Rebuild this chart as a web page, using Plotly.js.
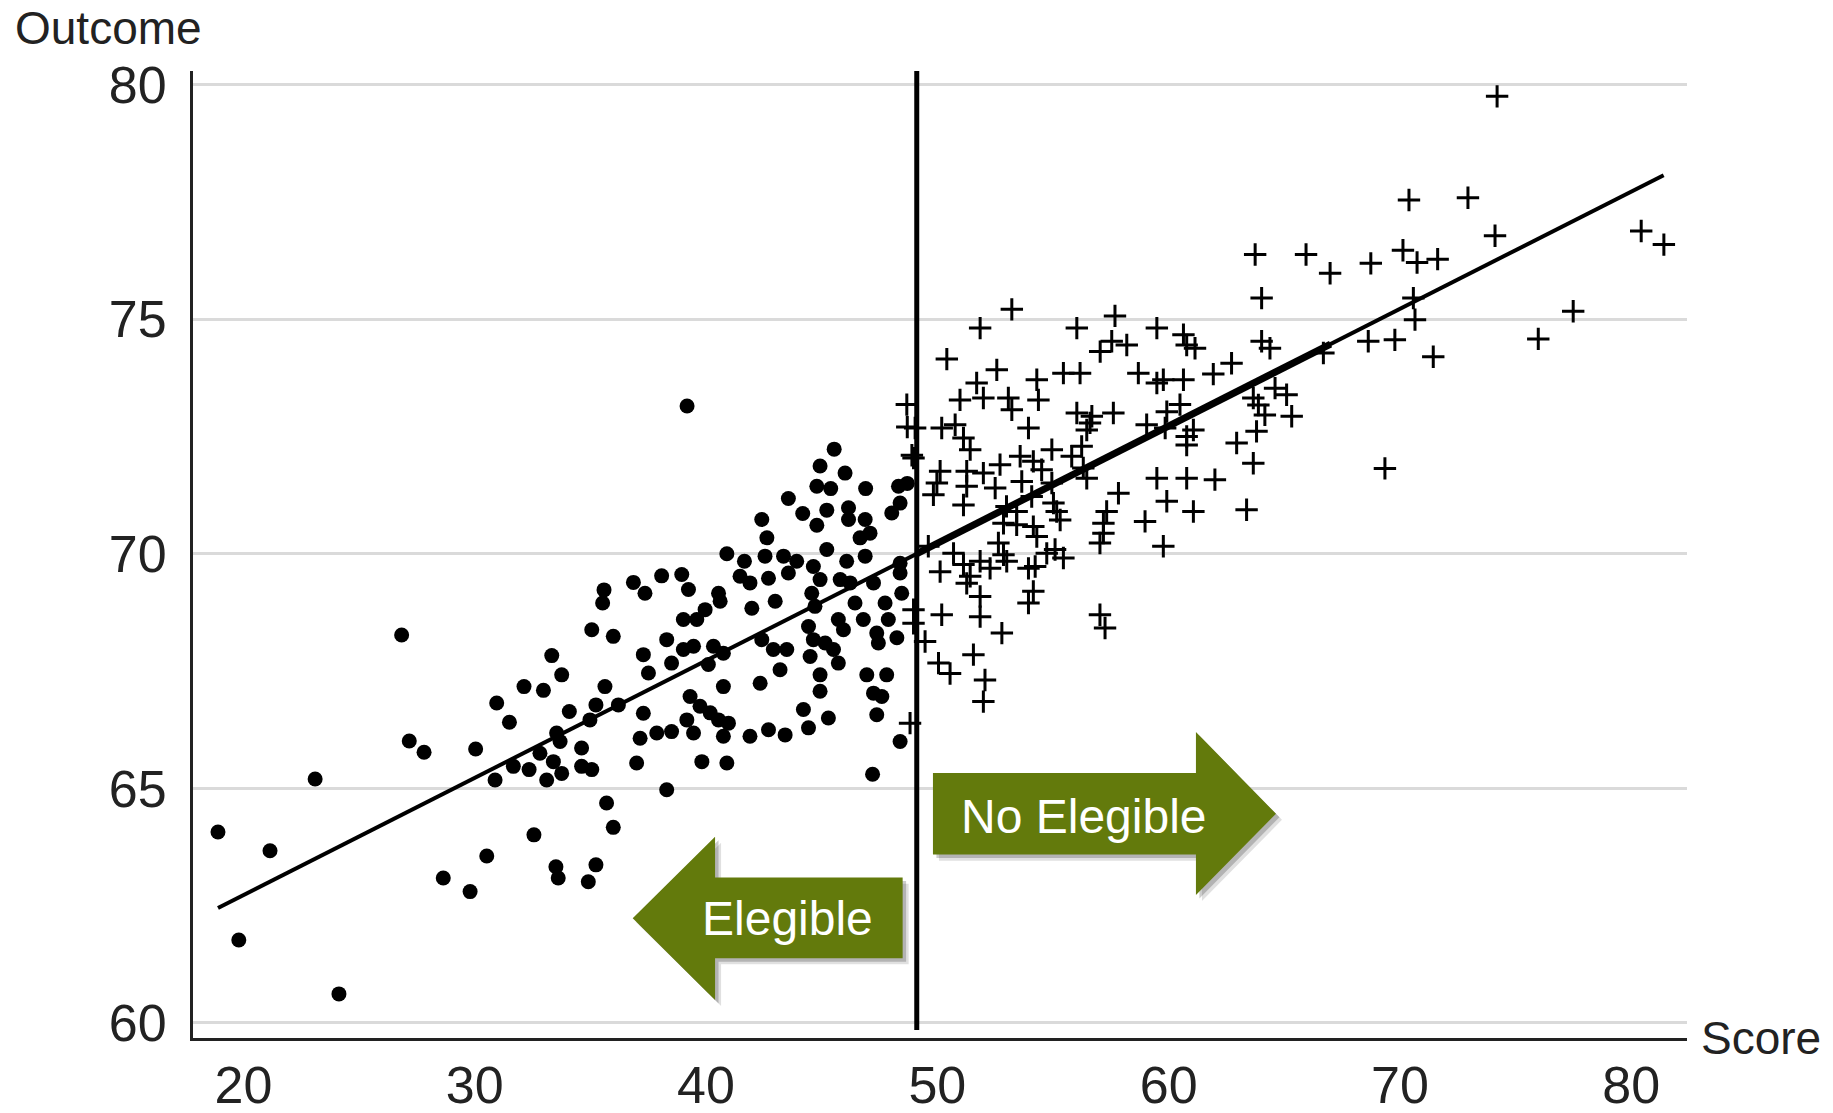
<!DOCTYPE html>
<html>
<head>
<meta charset="utf-8">
<script src="https://cdn.plot.ly/plotly-3.0.1.min.js"></script>
<style>html,body{margin:0;padding:0;background:#fff;}</style>
</head>
<body>
<div id="chart" style="width:1833px;height:1113px;"></div>
<script>
// ---- data ----
const xTicks = [20, 30, 40, 50, 60, 70, 80];
const yTicks = [60, 65, 70, 75, 80];

const dotX = [45.54,44.93,46.01,44.79,45.39,46.9,43.56,44.18,45.22,44.79,46.16,46.16,48.32,48.03,48.39,46.88,47.09,46.66,42.41,42.63,40.9,41.66,42.55,43.35,43.92,45.22,46.08,46.88,41.47,41.9,42.7,43.56,44.64,44.93,45.8,46.23,47.24,48.39,48.46,48.39,38.95,39.24,40.54,40.61,39.96,39.02,39.6,41.98,42.99,44.57,44.71,46.44,47.74,46.8,45.72,45.94,47.88,47.38,48.25,47.45,39.02,39.46,40.32,40.75,40.1,42.41,42.91,43.49,43.2,44.43,44.64,44.5,45.15,45.51,45.72,44.93,44.93,42.34,40.75,46.95,47.81,47.24,47.6,47.38,39.31,39.74,40.18,40.54,40.97,39.17,39.46,40.75,41.9,42.7,43.42,44.21,44.43,45.29,48.39,39.82,40.9,
  26.84,27.17,27.81,30.04,30.88,30.95,31.5,32.13,32.97,33.33,33.76,31.67,32.35,32.82,33.11,33.54,33.69,33.4,33.76,34.09,34.62,34.62,35.06,34.98,35.24,35.63,36.21,35.06,35.99,35.59,35.53,36.86,37.36,38.08,37.29,37.51,37.29,37.15,37.87,38.51,38.3,37.0,38.3,35.7,35.99,32.56,30.52,28.64,33.51,33.61,35.24,34.91,29.8,38.51,
  18.9,21.15,23.1,19.8,24.13,39.18,47.2,48.7];
const dotY = [72.23,71.87,71.72,71.44,71.39,71.39,71.18,70.86,70.93,70.61,70.98,70.73,71.44,70.87,71.08,70.73,70.44,70.34,70.73,70.34,70.0,69.84,69.95,69.95,69.84,70.09,69.84,69.95,69.52,69.38,69.48,69.59,69.73,69.45,69.45,69.38,69.38,69.8,69.16,69.59,69.56,69.24,69.16,68.99,68.81,68.6,68.6,68.84,68.99,69.16,68.88,68.95,68.95,68.6,68.6,68.38,68.6,68.31,68.21,68.1,67.96,68.03,68.03,67.88,67.64,68.17,67.96,67.96,67.53,68.45,68.17,67.81,68.1,67.96,67.67,67.42,67.07,67.24,67.17,67.42,67.42,67.03,66.96,66.57,66.96,66.75,66.61,66.46,66.39,66.46,66.18,66.11,66.11,66.25,66.14,66.68,66.29,66.5,66.0,65.57,65.54,
  68.27,66.01,65.77,65.84,65.18,66.82,66.41,67.17,67.09,67.83,67.42,65.47,65.4,65.75,65.18,66.18,66.0,65.57,65.32,66.64,65.86,65.47,65.4,66.46,66.78,67.17,66.78,68.38,68.24,69.23,68.95,69.39,69.16,69.53,67.85,67.46,66.6,66.07,66.18,66.21,68.17,65.54,64.97,64.69,64.17,64.01,63.56,63.09,63.33,63.09,63.37,63.01,62.8,67.67,
  64.07,63.67,65.2,61.77,60.62,73.15,65.3,71.5];

const crossX = [48.68,50.98,51.99,53.07,53.22,54.37,49.04,50.19,50.77,51.13,51.42,53.94,54.95,56.03,56.68,57.61,56.46,56.24,59.05,59.85,59.92,60.78,61.07,48.97,50.12,49.98,51.27,51.27,51.99,52.71,52.5,53.58,54.15,54.51,53.65,54.95,55.81,56.31,56.46,59.49,60.78,57.83,59.92,61.07,57.32,57.18,57.18,57.03,58.98,59.77,49.83,51.13,52.99,53.43,54.08,55.02,55.16,55.31,52.86,53.43,54.15,54.3,52.64,49.61,50.7,51.13,51.85,52.28,53.0,52.86,50.12,51.42,51.27,53.94,54.23,54.73,55.09,55.45,54.15,53.94,51.85,51.85,50.19,48.97,48.97,52.79,49.47,51.56,50.05,50.55,52.06,51.99,57.03,57.25,48.82,56.6,60.49,
  53.22,51.85,50.41,52.57,51.7,54.3,55.45,56.17,56.03,57.68,57.04,57.54,58.19,59.49,60.64,60.78,61.14,58.69,59.49,59.77,60.64,
  64.02,64.02,64.38,62.72,61.93,70.58,70.65,68.63,69.78,71.44,66.69,64.6,65.1,63.66,63.88,64.16,65.32,63.8,62.94,63.66,62.0,63.37,69.35,60.78,
  74.2,70.39,72.94,74.11,80.43,81.41,63.74,65.94,66.98,68.74,70.13,70.74,71.63,77.49,75.98,
  48.7,48.9];
const crossY = [73.18,73.28,73.32,73.32,73.07,73.28,72.68,72.68,72.75,72.47,72.22,72.68,72.22,73.0,72.93,73.0,72.64,72.29,72.75,72.68,73.03,72.32,72.64,72.04,71.76,71.51,71.76,71.44,71.72,71.9,71.4,72.08,71.97,71.79,71.54,71.51,72.08,71.83,71.61,71.61,71.61,71.29,71.12,70.9,70.9,70.65,70.44,70.23,70.69,70.16,71.26,71.04,71.01,70.9,71.22,71.08,70.9,70.72,70.65,70.62,70.58,70.37,70.23,70.16,70.01,69.77,69.84,69.69,69.84,69.98,69.62,69.52,69.37,69.69,69.73,70.01,70.09,69.91,69.2,68.95,69.09,68.66,68.7,68.81,68.52,68.31,68.13,67.85,67.67,67.45,67.31,66.85,68.7,68.42,66.39,72.79,73.18,
  75.21,74.81,74.15,73.92,73.64,73.71,73.85,73.85,74.81,75.07,74.31,74.53,74.45,74.81,74.67,74.45,74.38,73.85,73.64,73.71,73.71,
  75.45,74.53,74.38,74.06,73.83,75.45,74.99,74.53,74.56,74.2,74.28,73.53,73.39,73.32,73.17,72.96,72.93,72.61,72.36,71.93,71.58,70.94,71.82,72.5,
  79.75,77.54,77.59,76.78,76.88,76.59,76.38,76.38,75.98,76.19,76.47,76.21,76.28,75.17,74.58,
  72.7,72.1];

const fitX = [18.9, 81.4];
const fitY = [62.45, 78.07];
const fitThickX = [49.1, 67.0];
const fitThickY = [70.0, 74.47];

const cutoff = 49.11;

// arrow outlines (annotation graphics)
const arrowLeftX = [36.83, 40.39, 40.39, 48.5, 48.5, 40.39, 40.39];
const arrowLeftY = [62.23, 63.97, 63.1, 63.1, 61.38, 61.38, 60.49];
const arrowRightX = [49.81, 61.18, 61.18, 64.64, 61.18, 61.18, 49.81];
const arrowRightY = [65.33, 65.33, 66.2, 64.46, 62.73, 63.59, 63.59];

const labelLeft = "Elegible";
const labelRight = "No Elegible";

// ---- build ----
const FONT = "Liberation Sans, Arial, sans-serif";
const GREEN = "#637A0C";

function pathOf(xs, ys, dx, dy) {
  return xs.map((x, i) => (i ? "L" : "M") + (x + dx) + "," + (ys[i] + dy)).join(" ") + " Z";
}

const traces = [
  {x: dotX, y: dotY, type: "scatter", mode: "markers", hoverinfo: "skip",
   marker: {symbol: "circle", size: 15, color: "#000"}},
  {x: crossX, y: crossY, type: "scatter", mode: "markers", hoverinfo: "skip",
   marker: {symbol: "cross-thin", size: 16, color: "#000", line: {color: "#000", width: 3}}},
  {x: fitX, y: fitY, type: "scatter", mode: "lines", hoverinfo: "skip",
   line: {color: "#000", width: 4}},
  {x: fitThickX, y: fitThickY, type: "scatter", mode: "lines", hoverinfo: "skip",
   line: {color: "#000", width: 7}}
];

const shapes = [
  {type: "line", xref: "x", yref: "y", x0: cutoff, x1: cutoff, y0: 59.85, y1: 80.29,
   line: {color: "#000", width: 5}, layer: "above"},
  {type: "path", xref: "x", yref: "y", path: pathOf(arrowLeftX, arrowLeftY, 0.26, -0.13),
   fillcolor: "rgba(0,0,0,0.12)", line: {width: 0}, layer: "above"},
  {type: "path", xref: "x", yref: "y", path: pathOf(arrowLeftX, arrowLeftY, 0.15, -0.075),
   fillcolor: "rgba(0,0,0,0.2)", line: {width: 0}, layer: "above"},
  {type: "path", xref: "x", yref: "y", path: pathOf(arrowLeftX, arrowLeftY, 0, 0),
   fillcolor: GREEN, line: {width: 0}, layer: "above"},
  {type: "path", xref: "x", yref: "y", path: pathOf(arrowRightX, arrowRightY, 0.26, -0.13),
   fillcolor: "rgba(0,0,0,0.12)", line: {width: 0}, layer: "above"},
  {type: "path", xref: "x", yref: "y", path: pathOf(arrowRightX, arrowRightY, 0.15, -0.075),
   fillcolor: "rgba(0,0,0,0.2)", line: {width: 0}, layer: "above"},
  {type: "path", xref: "x", yref: "y", path: pathOf(arrowRightX, arrowRightY, 0, 0),
   fillcolor: GREEN, line: {width: 0}, layer: "above"}
];

const annotations = [
  {text: "Outcome", xref: "paper", yref: "paper", x: 0, y: 1, xanchor: "left", yanchor: "middle",
   xshift: -180, yshift: 43, showarrow: false, font: {family: FONT, size: 46, color: "#222"}},
  {text: "Score", xref: "paper", yref: "paper", x: 1, y: 0, xanchor: "left", yanchor: "middle",
   xshift: 12, yshift: 0, showarrow: false, font: {family: FONT, size: 46, color: "#222"}},
  {text: labelLeft, xref: "x", yref: "y", x: 43.52, y: 62.22, xanchor: "center", yanchor: "middle",
   showarrow: false, font: {family: FONT, size: 48, color: "#fff"}},
  {text: labelRight, xref: "x", yref: "y", x: 56.3, y: 64.41, xanchor: "center", yanchor: "middle",
   showarrow: false, font: {family: FONT, size: 48, color: "#fff"}}
];

const layout = {
  width: 1833, height: 1113,
  margin: {l: 193, r: 146, t: 71, b: 75, pad: 0},
  paper_bgcolor: "#fff", plot_bgcolor: "#fff",
  showlegend: false,
  font: {family: FONT, color: "#222"},
  xaxis: {
    range: [17.82, 82.41], tickmode: "array", tickvals: xTicks, ticktext: xTicks.map(String),
    showgrid: false, zeroline: false, showline: true, linecolor: "#222", linewidth: 3,
    ticks: "", ticklabelstandoff: 0, tickfont: {family: FONT, size: 52, color: "#222"}
  },
  yaxis: {
    range: [59.68, 80.29], tickmode: "array", tickvals: yTicks, ticktext: yTicks.map(String),
    showgrid: true, gridcolor: "#dadada", gridwidth: 3, zeroline: false,
    showline: true, linecolor: "#222", linewidth: 3,
    ticks: "", ticklabelstandoff: 13, tickfont: {family: FONT, size: 52, color: "#222"}
  },
  shapes: shapes,
  annotations: annotations
};

Plotly.newPlot("chart", traces, layout, {staticPlot: true, displayModeBar: false});
</script>
</body>
</html>
